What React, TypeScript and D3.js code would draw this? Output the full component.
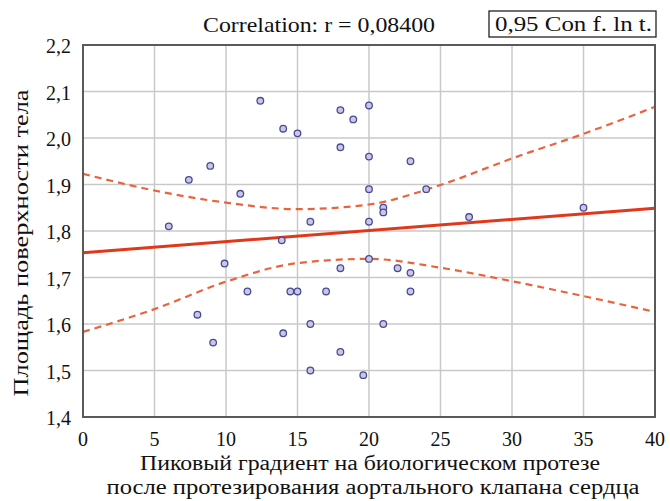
import React from "react";
import * as d3 from "d3";

// scatter points: [peak gradient, body surface area]
const gradient = [6, 7.4, 8.9, 8.0, 9.1, 9.9, 11.0, 11.5, 12.4, 13.9, 14.0, 14.0, 15.0, 14.5, 15.0,
  15.9, 15.9, 15.9, 17.0, 18.0, 18.9, 18.0, 18.0, 18.0, 19.6, 20.0, 20.0, 20.0, 20.0, 20.0,
  21.0, 21.0, 21.0, 22.0, 22.9, 22.9, 22.9, 24.0, 27.0, 35.0];
const area = [1.81, 1.91, 1.94, 1.62, 1.56, 1.73, 1.88, 1.67, 2.08, 1.78, 2.02, 1.58, 2.01, 1.67, 1.67,
  1.82, 1.60, 1.50, 1.67, 2.06, 2.04, 1.98, 1.72, 1.54, 1.49, 2.07, 1.96, 1.89, 1.82, 1.74,
  1.85, 1.84, 1.60, 1.72, 1.95, 1.71, 1.67, 1.89, 1.83, 1.85];

// fitted line and 0.95 confidence band
const fitX = [0, 40];
const fitY = [1.753, 1.849];
const bandX = [0, 5, 10, 15, 20, 25, 30, 35, 40];
const bandUpper = [1.923, 1.887, 1.861, 1.847, 1.857, 1.899, 1.956, 2.009, 2.067];
const bandLower = [1.583, 1.632, 1.691, 1.731, 1.740, 1.721, 1.692, 1.660, 1.626];

const xTicks = [0, 5, 10, 15, 20, 25, 30, 35, 40];
const yTicks = [1.4, 1.5, 1.6, 1.7, 1.8, 1.9, 2.0, 2.1, 2.2];

const titleText = "Correlation: r = 0,08400";
const legendText = "0,95 Con f. ln t.";
const xTitle1 = "Пиковый градиент на биологическом протезе";
const xTitle2 = "после протезирования аортального клапана сердца";
const yTitle = "Площадь поверхности тела";

const W = 670;
const H = 501;
const left = 83, right = 655, top = 45, bottom = 417;
const serif = {
  fontFamily:
    "'Liberation Serif', 'DejaVu Serif', Tinos, 'Noto Serif', 'Nimbus Roman', 'FreeSerif', Times, 'Times New Roman', serif",
};

export default function App() {
  const x = d3.scaleLinear().domain([0, 40]).range([left, right]);
  const y = d3.scaleLinear().domain([1.4, 2.2]).range([bottom, top]);
  const fmt = (v: number) => d3.format(".1f")(v).replace(".", ",");

  const fitLine = d3.line<number>().x((d) => x(d)).y((_, i) => y(fitY[i]));
  const bandLine = (vals: number[]) =>
    d3.line<number>().x((d) => x(d)).y((_, i) => y(vals[i])).curve(d3.curveMonotoneX)(bandX);

  return (
    <svg width={W} height={H} style={{ position: "absolute", left: 0, top: 0, background: "#fff" }}>
      {/* grid */}
      {xTicks.map((t) => (
        <line key={"gx" + t} x1={x(t)} x2={x(t)} y1={top} y2={bottom} stroke="#c9c9c9" strokeWidth={1.5} />
      ))}
      {yTicks.map((t) => (
        <line key={"gy" + t} x1={left} x2={right} y1={y(t)} y2={y(t)} stroke="#c9c9c9" strokeWidth={1.5} />
      ))}

      {/* confidence band */}
      <path d={bandLine(bandUpper) || ""} fill="none" stroke="#e8643e" strokeWidth={2.2} strokeDasharray="7,5" />
      <path d={bandLine(bandLower) || ""} fill="none" stroke="#e8643e" strokeWidth={2.2} strokeDasharray="7,5" />

      {/* regression */}
      <path d={fitLine(fitX) || ""} fill="none" stroke="#e1381c" strokeWidth={3} />

      {/* points */}
      {gradient.map((g, i) => (
        <circle key={"p" + i} cx={x(g)} cy={y(area[i])} r={3.3} fill="#c8c8e4" stroke="#4a4a96" strokeWidth={1.3} />
      ))}

      {/* frame */}
      <rect x={left} y={top} width={right - left} height={bottom - top} fill="none" stroke="#5a5a5a" strokeWidth={2} />

      {/* tick labels */}
      {xTicks.map((t) => (
        <text key={"tx" + t} x={x(t)} y={446} textAnchor="middle" fontSize={20} fill="#111" style={serif}>
          {t}
        </text>
      ))}
      {yTicks.map((t) => (
        <text key={"ty" + t} x={71} y={y(t) + 8} textAnchor="end" fontSize={20} fill="#111" style={serif}>
          {fmt(t)}
        </text>
      ))}

      {/* titles */}
      <text x={203} y={32} fontSize={21} fill="#111" textLength={232} lengthAdjust="spacingAndGlyphs" style={serif}>
        {titleText}
      </text>
      <rect x={489} y={11} width={167} height={26} fill="#fff" stroke="#222" strokeWidth={1.3} />
      <text x={495} y={31} fontSize={21} fill="#111" textLength={157} lengthAdjust="spacingAndGlyphs" style={serif}>
        {legendText}
      </text>

      <text x={370} y={470} textAnchor="middle" fontSize={20} fill="#111" textLength={460} lengthAdjust="spacingAndGlyphs" style={serif}>
        {xTitle1}
      </text>
      <text x={373} y={494} textAnchor="middle" fontSize={20} fill="#111" textLength={533} lengthAdjust="spacingAndGlyphs" style={serif}>
        {xTitle2}
      </text>
      <text
        transform={`translate(28, 243) rotate(-90)`}
        textAnchor="middle"
        fontSize={20}
        fill="#111"
        textLength={307}
        lengthAdjust="spacingAndGlyphs"
        style={serif}
      >
        {yTitle}
      </text>
    </svg>
  );
}
